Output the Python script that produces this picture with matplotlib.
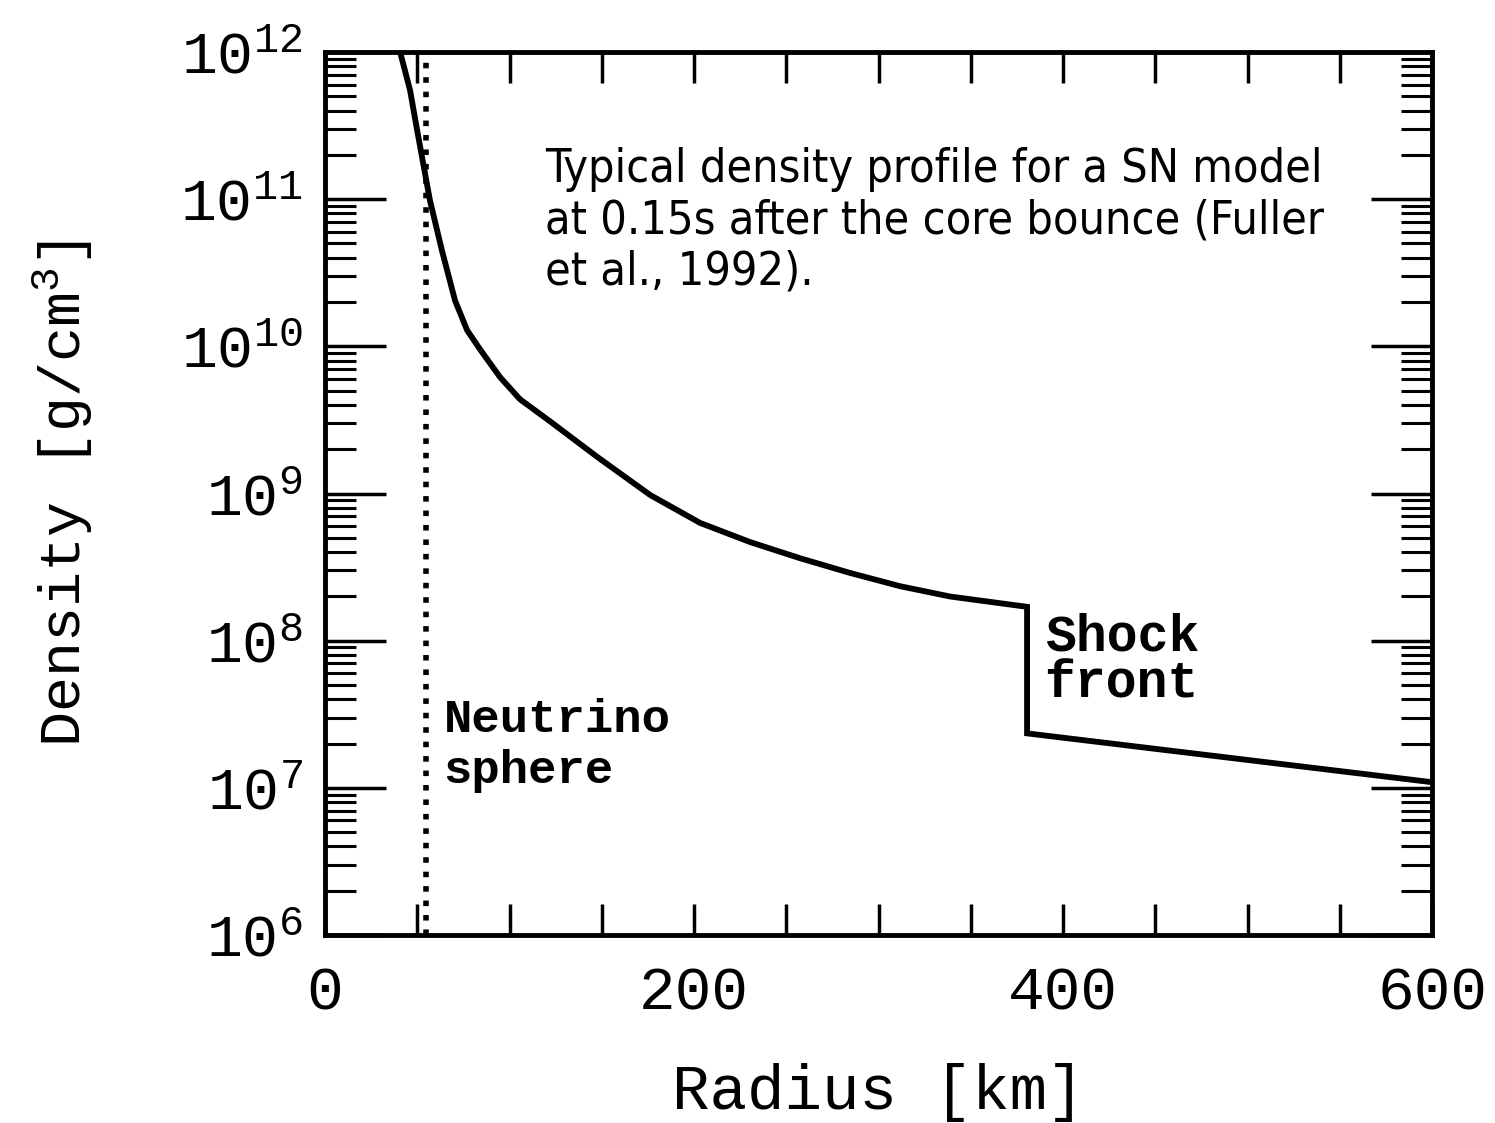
import matplotlib
matplotlib.use('Agg')
import matplotlib.pyplot as plt
import numpy as np
from matplotlib.ticker import FixedLocator, LogLocator, NullFormatter

plt.rcParams['mathtext.default'] = 'regular'

# perfil de densidad (radio en km, log10 de la densidad en g/cm^3)
radio = [40.7, 46.1, 49.9, 56.9, 63.4, 70.5, 77.0, 84.0, 94.9, 105.7, 122.0,
         147.4, 176.2, 203.3, 230.4, 257.5, 284.6, 311.7, 338.8, 380.5,
         380.5, 598.9]
log_densidad = [12.0, 11.74, 11.47, 10.99, 10.65, 10.31, 10.11, 9.98, 9.79, 9.64,
                9.49, 9.25, 8.99, 8.80, 8.67, 8.56, 8.46, 8.37, 8.30, 8.23,
                7.37, 7.04]
radio_neutrinosfera = 55

x_ticks = [0, 200, 400, 600]
x_ticks_menores = list(range(50, 600, 50))
y_decadas = [1e6, 1e7, 1e8, 1e9, 1e10, 1e11, 1e12]
y_etiquetas = [r'$10^{%d}$' % int(np.log10(v)) for v in y_decadas]

densidad = [10 ** v for v in log_densidad]

fuente = 'Liberation Mono'

fig = plt.figure(figsize=(14.95, 11.23), dpi=100)
ax = fig.add_axes([0.2174, 0.1674, 0.7405, 0.7863])

ax.plot(radio, densidad, color='black', linewidth=4.2, solid_joinstyle='miter')
ax.plot([radio_neutrinosfera, radio_neutrinosfera], [1e6, 1e12], color='black',
        linewidth=4, linestyle=(0, (1, 1.6)))

ax.set_yscale('log')
ax.set_xlim(0, 600)
ax.set_ylim(1e6, 1e12)

ax.xaxis.set_major_locator(FixedLocator(x_ticks))
ax.xaxis.set_minor_locator(FixedLocator([t for t in x_ticks_menores if t not in x_ticks]))
ax.set_xticklabels([str(t) for t in x_ticks], family=fuente, fontsize=44)

ax.yaxis.set_major_locator(FixedLocator(y_decadas))
ax.set_yticklabels(y_etiquetas, family=fuente, fontsize=43)
ax.yaxis.set_minor_locator(LogLocator(base=10, subs=np.arange(2, 10)))
ax.yaxis.set_minor_formatter(NullFormatter())

ax.tick_params(axis='x', which='both', direction='in', top=True, bottom=True,
               length=22, width=2.5, pad=22)
ax.tick_params(axis='y', which='major', direction='in', left=True, right=True,
               length=44, width=2.5, pad=16)
ax.tick_params(axis='y', which='minor', direction='in', left=True, right=True,
               length=22, width=2.2)

for lado in ax.spines.values():
    lado.set_linewidth(3.5)

ax.set_xlabel('Radius [km]', family=fuente, fontsize=45)
ax.set_ylabel('Density [g/cm$^3$]', family=fuente, fontsize=42)
ax.xaxis.set_label_coords(0.5, -0.145)
ax.yaxis.set_label_coords(-0.208, 0.5)

ax.text(0.107, 0.215, 'Neutrino\nsphere', transform=ax.transAxes, family=fuente,
        fontsize=34, fontweight='bold', va='center', ha='left', linespacing=1.2)
ax.text(0.650, 0.311, 'Shock\nfront', transform=ax.transAxes, family=fuente,
        fontsize=37, fontweight='bold', va='center', ha='left', linespacing=0.95)

ax.text(0.199, 0.892, 'Typical density profile for a SN model\n'
        'at 0.15s after the core bounce (Fuller\net al., 1992).',
        transform=ax.transAxes, family='DejaVu Sans', fontstretch='condensed',
        fontsize=33.5, va='top', ha='left', linespacing=1.17)

plt.savefig('out.png', dpi=100)
